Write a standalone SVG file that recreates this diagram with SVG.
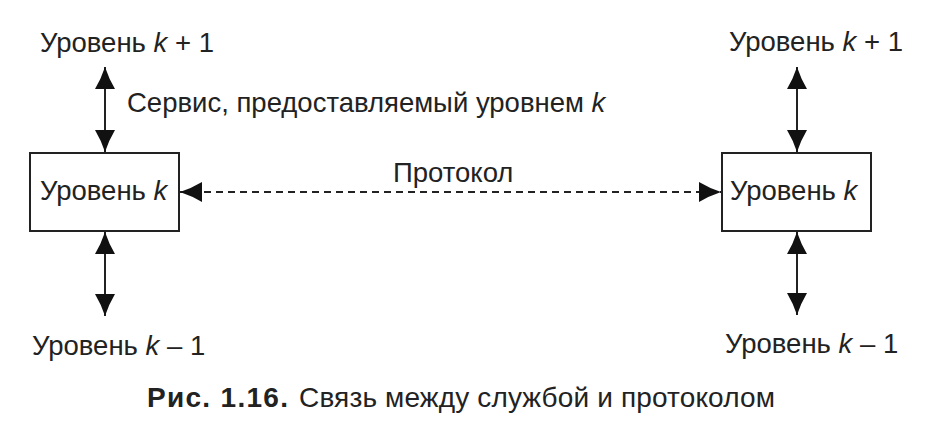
<svg xmlns="http://www.w3.org/2000/svg" width="935" height="430" viewBox="0 0 935 430">
<style>
  text { font-family: "Liberation Sans", Arial, sans-serif; fill: #222; }
  .lbl { font-size: 27.5px; }
  .it { font-style: italic; }
  .box { fill: #fff; stroke: #222; stroke-width: 2; }
  .con { stroke: #222; stroke-width: 2; fill: none; }
  .dash { stroke-dasharray: 7 5; stroke-width: 1.8; }
  .cap { font-size: 28px; }
  .capb { font-size: 28px; font-weight: bold; }
</style>
<defs>
  <marker id="ah" viewBox="0 -10 22 20" refX="22" refY="0" markerWidth="22" markerHeight="20" markerUnits="userSpaceOnUse" orient="auto-start-reverse">
    <path d="M0,-10 Q10,-4 22,0 Q10,4 0,10 Z" fill="#111" stroke="none"/>
  </marker>
</defs>
<rect width="935" height="430" fill="#fff"/>

<g id="connectors">
  <line class="con" x1="105" y1="67" x2="105" y2="152" marker-start="url(#ah)" marker-end="url(#ah)"/>
  <line class="con" x1="105" y1="232" x2="105" y2="316" marker-start="url(#ah)" marker-end="url(#ah)"/>
  <line class="con" x1="797" y1="67" x2="797" y2="152" marker-start="url(#ah)" marker-end="url(#ah)"/>
  <line class="con" x1="797" y1="232" x2="797" y2="315" marker-start="url(#ah)" marker-end="url(#ah)"/>
  <line class="con dash" x1="180" y1="192" x2="721" y2="192" marker-start="url(#ah)" marker-end="url(#ah)"/>
</g>

<g id="left-layer-k">
  <rect class="box" x="30" y="153" width="149" height="78"/>
  <text class="lbl" x="40" y="200">Уровень <tspan class="it">k</tspan></text>
</g>
<g id="right-layer-k">
  <rect class="box" x="722" y="153" width="149" height="78"/>
  <text class="lbl" x="730" y="200">Уровень <tspan class="it">k</tspan></text>
</g>

<g id="left-layer-k-plus-1">
  <text class="lbl" x="40" y="52">Уровень <tspan class="it">k</tspan> + 1</text>
</g>
<g id="right-layer-k-plus-1">
  <text class="lbl" x="729" y="51">Уровень <tspan class="it">k</tspan> + 1</text>
</g>
<g id="left-layer-k-minus-1">
  <text class="lbl" x="32" y="355">Уровень <tspan class="it">k</tspan> – 1</text>
</g>
<g id="right-layer-k-minus-1">
  <text class="lbl" x="725" y="353">Уровень <tspan class="it">k</tspan> – 1</text>
</g>

<g id="service-label">
  <text class="lbl" x="127" y="112">Сервис, предоставляемый уровнем <tspan class="it">k</tspan></text>
</g>
<g id="protocol-label">
  <text class="lbl" x="393" y="182">Протокол</text>
</g>

<g id="caption">
  <text class="capb" x="147" y="407" textLength="141">Рис. 1.16.</text>
  <text class="cap" x="299" y="407" textLength="476">Связь между службой и протоколом</text>
</g>
</svg>
